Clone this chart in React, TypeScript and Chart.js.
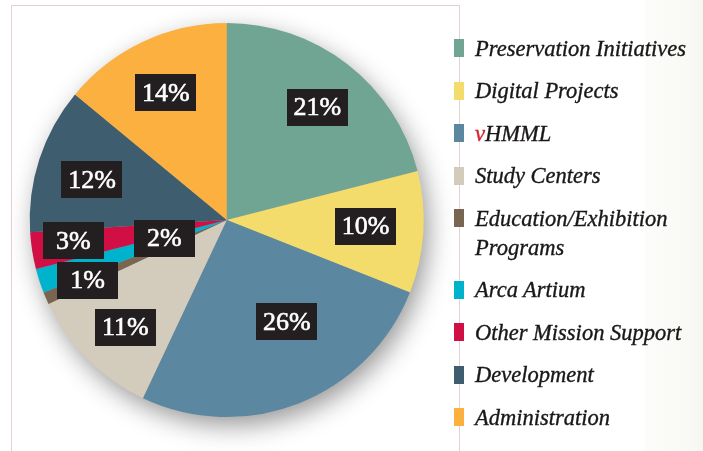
import React, { useEffect, useRef } from "react";
import { Chart, registerables } from "chart.js";

Chart.register(...registerables);

const categories = [
  "Preservation Initiatives",
  "Digital Projects",
  "vHMML",
  "Study Centers",
  "Education/Exhibition Programs",
  "Arca Artium",
  "Other Mission Support",
  "Development",
  "Administration",
];
const legendLines = [
  ["Preservation Initiatives"],
  ["Digital Projects"],
  ["vHMML"],
  ["Study Centers"],
  ["Education/Exhibition", "Programs"],
  ["Arca Artium"],
  ["Other Mission Support"],
  ["Development"],
  ["Administration"],
];
const values = [21, 10, 26, 11, 1, 2, 3, 12, 14];
const colors = [
  "#6fa592",
  "#f3dc6b",
  "#5b87a1",
  "#d3cbbb",
  "#7a6550",
  "#00b3cc",
  "#d20f45",
  "#3e5e70",
  "#fbb040",
];

// label placement along each slice: radial fraction and angular shift (deg)
const labelRadius = [0.734, 0.705, 0.6, 0.75, 0.77, 0.33, 0.786, 0.714, 0.716];
const labelShift = [1, -1, -9, -1.6, 0, 1.5, 1.3, -1.4, -0.4];

const shadowPlugin = {
  id: "pieShadow",
  beforeDatasetsDraw(chart: any) {
    const meta = chart.getDatasetMeta(0);
    const arc = meta.data[0];
    if (!arc) return;
    const ctx = chart.ctx;
    ctx.save();
    ctx.shadowColor = "rgba(0,0,0,0.42)";
    ctx.shadowBlur = 26;
    ctx.shadowOffsetX = 5;
    ctx.shadowOffsetY = 9;
    ctx.fillStyle = "#9a9a9a";
    ctx.beginPath();
    ctx.arc(arc.x, arc.y, arc.outerRadius - 1, 0, Math.PI * 2);
    ctx.fill();
    ctx.restore();
  },
};

const labelPlugin = {
  id: "boxLabels",
  afterDatasetsDraw(chart: any) {
    const meta = chart.getDatasetMeta(0);
    const ctx = chart.ctx;
    ctx.save();
    meta.data.forEach((arc: any, i: number) => {
      const mid = (arc.startAngle + arc.endAngle) / 2 + (labelShift[i] * Math.PI) / 180;
      const r = arc.outerRadius * labelRadius[i];
      const cx = arc.x + Math.cos(mid) * r;
      const cy = arc.y + Math.sin(mid) * r;
      const w = 61;
      const h = 37;
      ctx.fillStyle = "#231f20";
      ctx.fillRect(Math.round(cx - w / 2), Math.round(cy - h / 2), w, h);
      ctx.fillStyle = "#ffffff";
      ctx.strokeStyle = "#ffffff";
      ctx.lineWidth = 0.6;
      ctx.font = '26px "Liberation Serif", "Times New Roman", serif';
      ctx.textAlign = "center";
      ctx.textBaseline = "middle";
      ctx.fillText(values[i] + "%", cx, cy + 1);
      ctx.strokeText(values[i] + "%", cx, cy + 1);
    });
    ctx.restore();
  },
};

export default function App() {
  const ref = useRef<HTMLCanvasElement | null>(null);
  useEffect(() => {
    if (!ref.current) return;
    const chart = new Chart(ref.current, {
      type: "pie",
      data: {
        labels: categories,
        datasets: [
          {
            data: values,
            backgroundColor: colors,
            borderWidth: 0,
          },
        ],
      },
      options: {
        responsive: false,
        animation: false,
        events: [],
        layout: { padding: { left: 29.5, right: 279, top: 23, bottom: 34 } },
        plugins: {
          legend: { display: false },
          tooltip: { enabled: false },
        },
      },
      plugins: [shadowPlugin, labelPlugin],
    });
    return () => chart.destroy();
  }, []);

  const lineColor = "#e6d0d3";
  return (
    <div
      style={{
        position: "absolute",
        left: 0,
        top: 0,
        width: 703,
        height: 451,
        background: "#ffffff",
        overflow: "hidden",
      }}
    >
      <div
        style={{
          position: "absolute",
          left: 645,
          top: 0,
          width: 58,
          height: 451,
          background: "linear-gradient(to right, #fcfcfb, #fafaf7 50%, #f7f7f2)",
        }}
      />
      <div style={{ position: "absolute", left: 11, top: 5, width: 449, height: 1, background: lineColor }} />
      <div style={{ position: "absolute", left: 11, top: 5, width: 1, height: 446, background: lineColor }} />
      <div style={{ position: "absolute", left: 459, top: 5, width: 1, height: 446, background: lineColor }} />
      <canvas
        ref={ref}
        width={703}
        height={451}
        style={{ position: "absolute", left: 0, top: 0, width: 703, height: 451 }}
      />
      <div
        style={{
          position: "absolute",
          left: 454,
          top: 33.5,
          display: "flex",
          flexDirection: "column",
          gap: 13.5,
          fontFamily: '"Liberation Serif", "Times New Roman", serif',
          fontStyle: "italic",
          fontSize: 22.5,
          color: "#1a1718",
          WebkitTextStroke: "0.35px #1a1718",
        }}
      >
        {legendLines.map((lines, i) => (
          <div key={i} style={{ display: "flex", alignItems: "flex-start" }}>
            <div
              style={{
                width: 10,
                height: 18,
                marginTop: 5.5,
                background: colors[i],
                flex: "0 0 auto",
              }}
            />
            <div style={{ marginLeft: 11, lineHeight: "29px", whiteSpace: "nowrap" }}>
              {lines.map((t, j) => (
                <div key={j}>
                  {t === "vHMML" ? (
                    <>
                      <span style={{ color: "#d0202e", WebkitTextStroke: "0.35px #d0202e" }}>v</span>HMML
                    </>
                  ) : (
                    t
                  )}
                </div>
              ))}
            </div>
          </div>
        ))}
      </div>
    </div>
  );
}
